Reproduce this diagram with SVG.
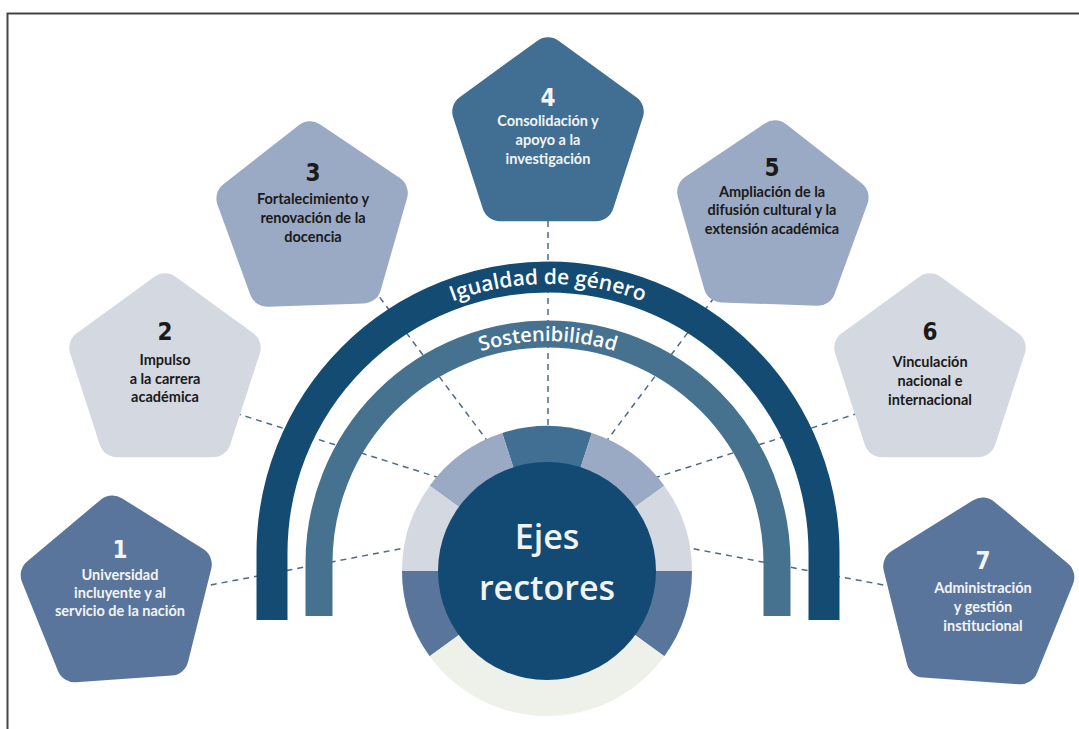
<svg xmlns="http://www.w3.org/2000/svg" width="1079" height="729" viewBox="0 0 1079 729">
<style>
.lbl{font-family:Lato,"Liberation Sans",sans-serif;font-weight:700;font-size:14.5px;text-anchor:middle}
.num{font-family:"Liberation Sans Narrow","DejaVu Sans Condensed","Liberation Sans",sans-serif;font-weight:700;font-size:24px;text-anchor:middle}
.lt{fill:#f3f4f6}
.dk{fill:#1a1a1a}
.band{fill:none;stroke-linecap:butt}
.bt{font-family:"Open Sans","Liberation Sans",sans-serif;font-weight:600;fill:#ffffff}
.dash{stroke:#4d6a8a;stroke-width:1.5;stroke-dasharray:6 5;fill:none}
.ctr{font-family:"Open Sans","Liberation Sans",sans-serif;font-weight:600;font-size:34px;fill:#f2f2ee;text-anchor:middle}
</style>
<defs>
<polygon id="pent" points="0,-81.75 77.75,-25.26 48.05,66.14 -48.05,66.14 -77.75,-25.26" stroke-width="36" stroke-linejoin="round"/>
<path id="tp1" d="M 279,553 A 269,269 0 0 1 817,553"/>
<path id="tp2" d="M 326,563 A 222,222 0 0 1 770,563"/>
</defs>
<rect width="1079" height="729" fill="#ffffff"/>
<path d="M 7.5,729 L 7.5,13.5 L 1079,13.5" fill="none" stroke="#444444" stroke-width="2"/>

<g id="connectors">
<line class="dash" x1="200" y1="587" x2="410" y2="547"/>
<line class="dash" x1="235" y1="413" x2="440" y2="478"/>
<line class="dash" x1="360" y1="271" x2="492" y2="447"/>
<line class="dash" x1="548" y1="210" x2="548" y2="440"/>
<line class="dash" x1="734" y1="271" x2="602" y2="447"/>
<line class="dash" x1="859" y1="413" x2="654" y2="478"/>
<line class="dash" x1="894" y1="587" x2="684" y2="547"/>
</g>

<g id="arc-igualdad">
<path class="band" d="M 272,620 L 272,553 A 276,276 0 0 1 824,553 L 824,620" stroke="#144b73" stroke-width="31"/>
<text class="bt" font-size="21"><textPath href="#tp1" startOffset="50%" text-anchor="middle">Igualdad de género</textPath></text>
</g>
<g id="arc-sostenibilidad">
<path class="band" d="M 319,616 L 319,563 A 229,229 0 0 1 777,563 L 777,616" stroke="#46728f" stroke-width="27"/>
<text class="bt" font-size="20"><textPath href="#tp2" startOffset="50%" text-anchor="middle">Sostenibilidad</textPath></text>
</g>

<g id="ring">
<path d="M547,571 L502.2,433.1 A145,145 0 0 1 591.8,433.1 Z" fill="#406f93"/>
<path d="M547,571 L429.7,485.8 A145,145 0 0 1 502.2,433.1 Z" fill="#9aaac4"/>
<path d="M547,571 L591.8,433.1 A145,145 0 0 1 664.3,485.8 Z" fill="#9aaac4"/>
<path d="M547,571 L402,571 A145,145 0 0 1 429.7,485.8 Z" fill="#d4d9e1"/>
<path d="M547,571 L664.3,485.8 A145,145 0 0 1 692,571 Z" fill="#d4d9e1"/>
<path d="M547,571 L429.7,656.2 A145,145 0 0 1 402,571 Z" fill="#5a759c"/>
<path d="M547,571 L692,571 A145,145 0 0 1 664.3,656.2 Z" fill="#5a759c"/>
<path d="M547,571 L664.3,656.2 A145,145 0 0 1 429.7,656.2 Z" fill="#eef0ea"/>
</g>
<g id="center">
<circle cx="547" cy="571" r="109" fill="#124a74"/>
<text class="ctr" x="547" y="549">Ejes</text>
<text class="ctr" x="547" y="600">rectores</text>
</g>

<g id="eje1">
<use href="#pent" fill="#5a759c" stroke="#5a759c" transform="translate(118,595) rotate(-4)"/>
<text class="num lt" x="120" y="558">1</text>
<text class="lbl lt" x="120" y="580">Universidad</text>
<text class="lbl lt" x="120" y="598">incluyente y al</text>
<text class="lbl lt" x="120" y="616">servicio de la nación</text>
</g>
<g id="eje2">
<use href="#pent" fill="#d4d9e1" stroke="#d4d9e1" transform="translate(165,373)"/>
<text class="num dk" x="165" y="340" font-family="'DejaVu Sans',sans-serif">2</text>
<text class="lbl dk" x="165" y="365">Impulso</text>
<text class="lbl dk" x="165" y="384">a la carrera</text>
<text class="lbl dk" x="165" y="402">académica</text>
</g>
<g id="eje3">
<use href="#pent" fill="#9aaac4" stroke="#9aaac4" transform="translate(313,221) rotate(-2)"/>
<text class="num dk" x="313" y="181">3</text>
<text class="lbl dk" x="313" y="204">Fortalecimiento y</text>
<text class="lbl dk" x="313" y="223">renovación de la</text>
<text class="lbl dk" x="313" y="242">docencia</text>
</g>
<g id="eje4">
<use href="#pent" fill="#406f93" stroke="#406f93" transform="translate(548,137)"/>
<text class="num lt" x="548" y="106">4</text>
<text class="lbl lt" x="548" y="126">Consolidación y</text>
<text class="lbl lt" x="548" y="145">apoyo a la</text>
<text class="lbl lt" x="548" y="164">investigación</text>
</g>
<g id="eje5">
<use href="#pent" fill="#9aaac4" stroke="#9aaac4" transform="translate(772,220) rotate(2)"/>
<text class="num dk" x="772" y="176">5</text>
<text class="lbl dk" x="772" y="197">Ampliación de la</text>
<text class="lbl dk" x="772" y="215">difusión cultural y la</text>
<text class="lbl dk" x="772" y="234">extensión académica</text>
</g>
<g id="eje6">
<use href="#pent" fill="#d4d9e1" stroke="#d4d9e1" transform="translate(930,373)"/>
<text class="num dk" x="930" y="340">6</text>
<text class="lbl dk" x="930" y="367">Vinculación</text>
<text class="lbl dk" x="930" y="386">nacional e</text>
<text class="lbl dk" x="930" y="405">internacional</text>
</g>
<g id="eje7">
<use href="#pent" fill="#5a759c" stroke="#5a759c" transform="translate(977,597) rotate(4)"/>
<text class="num lt" x="983" y="569">7</text>
<text class="lbl lt" x="983" y="593">Administración</text>
<text class="lbl lt" x="983" y="612">y gestión</text>
<text class="lbl lt" x="983" y="631">institucional</text>
</g>
</svg>
